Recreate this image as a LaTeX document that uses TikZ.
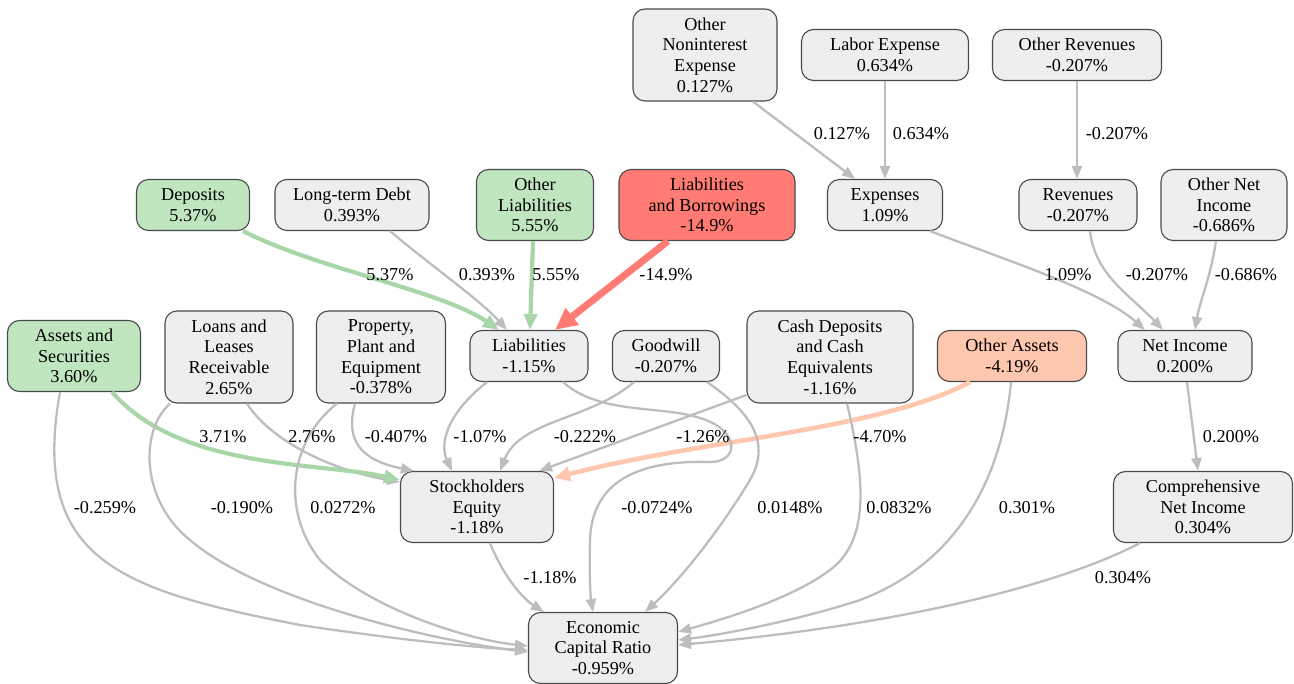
\documentclass[tikz,border=0pt]{standalone}
\usepackage{fontspec}
\setmainfont{Liberation Serif}
\usetikzlibrary{arrows.meta,calc}
\definecolor{nodefill}{HTML}{EEEEEE}
\definecolor{nodeborder}{HTML}{4A4A4A}
\definecolor{edgegray}{HTML}{BDBDBD}
\definecolor{posfill}{HTML}{BFE6BF}
\definecolor{posedge}{HTML}{A9D6A9}
\definecolor{negfill}{HTML}{FF7B73}
\definecolor{negedge}{HTML}{FF7B73}
\definecolor{warnfill}{HTML}{FFC7AE}
\definecolor{warnedge}{HTML}{FFC7AE}
\begin{document}
\begin{tikzpicture}[x=1pt,y=-1pt,
  box/.style={draw=nodeborder, line width=1.1pt, fill=nodefill, rounded corners=12pt,
    align=center, inner sep=0pt, font=\fontsize{18.2}{20.6}\selectfont},
  posbox/.style={box, fill=posfill},
  negbox/.style={box, fill=negfill},
  warnbox/.style={box, fill=warnfill},
  lbl/.style={inner sep=0pt, font=\fontsize{18.2}{20.6}\selectfont},
  gedge/.style={draw=edgegray, line width=2.3pt, -{Triangle[length=13pt,width=10pt]}},
  posarrow/.style={draw=posedge, line width=4.2pt, -{Triangle[length=16pt,width=13pt]}},
  negarrow/.style={draw=negedge, line width=7pt, -{Triangle[length=22pt,width=20pt]}},
  warnarrow/.style={draw=warnedge, line width=4.6pt, -{Triangle[length=16pt,width=14pt]}},
]
\useasboundingbox (0,0) rectangle (1294,684);
% nodes
\node[box, minimum width=144pt, minimum height=92pt] (one) at (705,55) {Other\\Noninterest\\Expense\\0.127\%};
\node[box, minimum width=167pt, minimum height=51pt] (labor) at (885,55) {Labor Expense\\0.634\%};
\node[box, minimum width=169pt, minimum height=51pt] (orev) at (1077,55) {Other Revenues\\-0.207\%};
\node[posbox, minimum width=113pt, minimum height=51pt] (dep) at (193,205) {Deposits\\5.37\%};
\node[box, minimum width=154pt, minimum height=51pt] (ltd) at (352,205) {Long-term Debt\\0.393\%};
\node[posbox, minimum width=117pt, minimum height=71pt] (oliab) at (535,205) {Other\\Liabilities\\5.55\%};
\node[negbox, minimum width=176pt, minimum height=71pt] (lab) at (707,205) {Liabilities\\and Borrowings\\-14.9\%};
\node[box, minimum width=115pt, minimum height=51pt] (exp) at (885,205) {Expenses\\1.09\%};
\node[box, minimum width=118pt, minimum height=51pt] (rev) at (1078,205) {Revenues\\-0.207\%};
\node[box, minimum width=126pt, minimum height=71pt] (oni) at (1224,205) {Other Net\\Income\\-0.686\%};
\node[posbox, minimum width=133pt, minimum height=71pt] (as) at (74,356) {Assets and\\Securities\\3.60\%};
\node[box, minimum width=128pt, minimum height=92pt] (loans) at (229,357) {Loans and\\Leases\\Receivable\\2.65\%};
\node[box, minimum width=129pt, minimum height=92pt] (ppe) at (381,357) {Property,\\Plant and\\Equipment\\-0.378\%};
\node[box, minimum width=118pt, minimum height=51pt] (liab) at (529,356) {Liabilities\\-1.15\%};
\node[box, minimum width=107pt, minimum height=51pt] (gw) at (666,356) {Goodwill\\-0.207\%};
\node[box, minimum width=166pt, minimum height=92pt] (cash) at (830,357) {Cash Deposits\\and Cash\\Equivalents\\-1.16\%};
\node[warnbox, minimum width=149pt, minimum height=51pt] (oa) at (1012,356) {Other Assets\\-4.19\%};
\node[box, minimum width=134pt, minimum height=51pt] (ni) at (1185,356) {Net Income\\0.200\%};
\node[box, minimum width=153pt, minimum height=71pt] (se) at (477,507) {Stockholders\\Equity\\-1.18\%};
\node[box, minimum width=179pt, minimum height=71pt] (cni) at (1203,507) {Comprehensive\\Net Income\\0.304\%};
\node[box, minimum width=149pt, minimum height=71pt] (ecr) at (603,648) {Economic\\Capital Ratio\\-0.959\%};
% edges
\draw[gedge] ($(one.south)+(48,0)$) -- ($(exp.north)+(-30,0)$);
\draw[gedge] (labor.south) -- (exp.north);
\draw[gedge] (orev.south) -- ($(rev.north)+(-1,0)$);
\draw[gedge] ($(ltd.south)+(38,0)$) .. controls (430,265) and (480,300) .. ($(liab.north)+(-22,0)$);
\draw[posarrow] ($(dep.south)+(50,0)$) .. controls (320,270) and (440,290) .. ($(liab.north)+(-30,0)$);
\draw[posarrow] ($(oliab.south)+(-2,0)$) -- ($(liab.north)+(1,0)$);
\draw[negarrow] ($(lab.south)+(-39,0)$) -- ($(liab.north)+(26,0)$);
\draw[gedge] ($(exp.south)+(45,0)$) .. controls (1000,258) and (1100,290) .. ($(ni.north)+(-40,0)$);
\draw[gedge] ($(rev.south)+(12,0)$) .. controls (1095,275) and (1130,295) .. ($(ni.north)+(-22,0)$);
\draw[gedge] ($(oni.south)+(-8,0)$) .. controls (1210,280) and (1200,300) .. ($(ni.north)+(10,0)$);
\draw[gedge] ($(loans.south)+(18,0)$) .. controls (270,440) and (330,470) .. ($(se.west)+(0,-25)$);
\draw[gedge] ($(ppe.south)+(-26,0)$) .. controls (345,440) and (360,460) .. ($(se.north west)+(14,0)$);
\draw[posarrow] ($(as.south)+(38,0)$) .. controls (180,470) and (320,462) .. ($(se.west)+(0,-27)$);
\draw[gedge] ($(liab.south)+(-42,0)$) .. controls (445,415) and (440,445) .. ($(se.north)+(-25,0)$);
\draw[gedge] ($(gw.south)+(-32,0)$) .. controls (590,420) and (520,420) .. ($(se.north)+(23,0)$);
\draw[gedge] ($(cash.west)+(0,38)$) -- ($(se.north east)+(-15,0)$);
\draw[warnarrow] ($(oa.south)+(-42,0)$) .. controls (880,430) and (700,440) .. ($(se.east)+(0,-29)$);
\draw[gedge] ($(liab.south)+(34,0)$) .. controls (600,415) and (660,405) .. (700,418)
   .. controls (740,430) and (740,462) .. (710,462)
   .. controls (640,460) and (592,480) .. (590,540)
   .. controls (589,580) and (591,600) .. ($(ecr.north)+(-10,0)$);
\draw[gedge] ($(gw.south)+(41,0)$) .. controls (755,415) and (770,445) .. (750,480)
   .. controls (720,530) and (680,580) .. ($(ecr.north)+(42,0)$);
\draw[gedge] ($(cash.south)+(17,0)$) .. controls (865,480) and (870,540) .. (830,570)
   .. controls (790,600) and (720,620) .. ($(ecr.east)+(0,-16)$);
\draw[gedge] ($(oa.south)+(-1,0)$) .. controls (1000,500) and (940,570) .. (860,600)
   .. controls (800,620) and (720,635) .. ($(ecr.east)+(0,-8)$);
\draw[gedge] ($(cni.south)+(-63,0)$) .. controls (1060,585) and (900,625) .. ($(ecr.east)+(0,-3)$);
\draw[gedge] ($(ni.south)+(2,0)$) -- ($(cni.north)+(-5,0)$);
\draw[gedge] ($(se.south)+(13,0)$) .. controls (505,580) and (525,600) .. ($(ecr.north west)+(16,0)$);
\draw[gedge] ($(as.south)+(-14,0)$) .. controls (30,560) and (120,590) .. (300,625)
   .. controls (400,640) and (480,648) .. ($(ecr.west)+(0,2)$);
\draw[gedge] ($(loans.south)+(-59,0)$) .. controls (140,430) and (140,500) .. (190,540)
   .. controls (260,600) and (430,640) .. ($(ecr.west)+(0,4)$);
\draw[gedge] ($(ppe.south)+(-44,0)$) .. controls (290,440) and (280,510) .. (320,560)
   .. controls (370,610) and (470,640) .. ($(ecr.west)+(0,-2)$);
% edge labels
\node[lbl] (l1) at (842,134) {0.127\%};
\node[lbl] (l2) at (921,134) {0.634\%};
\node[lbl] (l3) at (1117,134) {-0.207\%};
\node[lbl] (l4) at (390,275) {5.37\%};
\node[lbl] (l5) at (487,275) {0.393\%};
\node[lbl] (l6) at (556,275) {5.55\%};
\node[lbl] (l7) at (666,275) {-14.9\%};
\node[lbl] (l8) at (1068,275) {1.09\%};
\node[lbl] (l9) at (1157,275) {-0.207\%};
\node[lbl] (l10) at (1246,275) {-0.686\%};
\node[lbl] (l11) at (223,437) {3.71\%};
\node[lbl] (l12) at (312,437) {2.76\%};
\node[lbl] (l13) at (396,437) {-0.407\%};
\node[lbl] (l14) at (480,437) {-1.07\%};
\node[lbl] (l15) at (585,437) {-0.222\%};
\node[lbl] (l16) at (703,437) {-1.26\%};
\node[lbl] (l17) at (880,437) {-4.70\%};
\node[lbl] (l18) at (1231,437) {0.200\%};
\node[lbl] (l19) at (105,508) {-0.259\%};
\node[lbl] (l20) at (242,508) {-0.190\%};
\node[lbl] (l21) at (343,508) {0.0272\%};
\node[lbl] (l22) at (657,508) {-0.0724\%};
\node[lbl] (l23) at (790,508) {0.0148\%};
\node[lbl] (l24) at (899,508) {0.0832\%};
\node[lbl] (l25) at (1027,508) {0.301\%};
\node[lbl] (l26) at (550,578) {-1.18\%};
\node[lbl] (l27) at (1123,578) {0.304\%};
\end{tikzpicture}
\end{document}
